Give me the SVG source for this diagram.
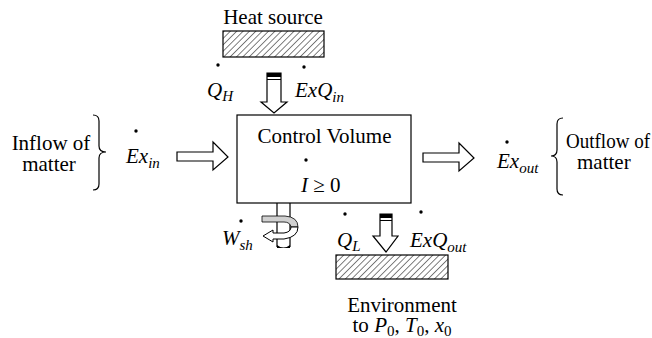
<svg xmlns="http://www.w3.org/2000/svg" width="652" height="338" viewBox="0 0 652 338" font-family="'Liberation Serif', 'DejaVu Serif', serif">
<defs>
<pattern id="hatch" width="4.5" height="4.5" patternUnits="userSpaceOnUse" patternTransform="rotate(45)">
<line x1="0" y1="0" x2="0" y2="4.5" stroke="#000" stroke-width="1"/>
</pattern>
<style>
text{font-family:'Liberation Serif','DejaVu Serif',serif;font-size:21px;fill:#000}
.i{font-style:italic}
.s{font-size:15px}
.ln{fill:none;stroke:#000;stroke-width:1.2}
.blk{fill:#fff;stroke:#000;stroke-width:1.2}
.hat{fill:url(#hatch);stroke:#000;stroke-width:1.2}
.dot{fill:#000}
</style>
</defs>
<rect width="652" height="338" fill="#fff"/>

<g id="heat-source">
<text x="273" y="24" text-anchor="middle">Heat source</text>
<rect class="hat" x="223" y="31" width="101" height="26"/>
</g>

<g id="control-volume">
<rect class="blk" x="237" y="115" width="174" height="88"/>
<text x="324.5" y="143" text-anchor="middle">Control Volume</text>
<circle class="dot" cx="306" cy="160" r="1.7"/>
<text x="301" y="192"><tspan class="i">I</tspan> ≥ 0</text>
</g>

<g id="environment">
<rect class="hat" x="336" y="255" width="112" height="24"/>
<text x="402" y="312" text-anchor="middle">Environment</text>
<text x="402" y="332" text-anchor="middle">to <tspan class="i">P</tspan><tspan class="s" dy="4">0</tspan><tspan dy="-4">, </tspan><tspan class="i">T</tspan><tspan class="s" dy="4">0</tspan><tspan dy="-4">, </tspan><tspan class="i">x</tspan><tspan class="s" dy="4">0</tspan></text>
</g>

<g id="inflow">
<text x="51" y="150" text-anchor="middle">Inflow of</text>
<text x="49" y="171" text-anchor="middle">matter</text>
<path class="ln" d="M93,115 Q99,115 99,121 L99,146 Q99,152 106,152 Q99,152 99,158 L99,184 Q99,190 93,190"/>
<circle class="dot" cx="136" cy="131" r="1.7"/>
<text x="126" y="163" class="i">Ex<tspan class="s" dy="5">in</tspan></text>
</g>

<g id="outflow">
<text x="566" y="148" textLength="84" lengthAdjust="spacingAndGlyphs">Outflow of</text>
<text x="577" y="169">matter</text>
<path class="ln" d="M563,118 Q557,118 557,124 L557,150 Q557,156 551,156 Q557,156 557,162 L557,189 Q557,195 563,195"/>
<circle class="dot" cx="507" cy="142" r="1.7"/>
<text x="497" y="168" class="i">Ex<tspan class="s" dy="5">out</tspan></text>
</g>

<g id="heat-in-labels">
<circle class="dot" cx="218" cy="65" r="1.7"/>
<text x="207" y="97" class="i">Q<tspan class="s" dy="4">H</tspan></text>
<circle class="dot" cx="304" cy="67" r="1.7"/>
<text x="295" y="97" class="i">ExQ<tspan class="s" dy="5">in</tspan></text>
</g>

<g id="heat-out-labels">
<circle class="dot" cx="345" cy="214" r="1.7"/>
<text x="337" y="247" class="i">Q<tspan class="s" dy="4">L</tspan></text>
<circle class="dot" cx="421" cy="212" r="1.7"/>
<text x="410" y="247" class="i">ExQ<tspan class="s" dy="5">out</tspan></text>
</g>

<g id="shaft-work">
<path class="ln" d="M277,203 L277,247 M290,203 L290,247"/>
<path d="M277,245 Q283.5,250 290,245 L290,248 L277,248 Z" fill="#000"/>
<path d="M262,216 L285,216 Q298,217 298,227 L291,227 Q290,222 284,222 L262,222 Z" fill="#d0d0d0" stroke="#000" stroke-width="0.8"/>
<path d="M298,227 Q298,237 284,239 L273,239 L273,242 L263,236 L273,230 L273,233 L284,233 Q291,232 291,227 Z" fill="#fff" stroke="#000" stroke-width="1"/>
<circle class="dot" cx="241" cy="221" r="1.7"/>
<text x="222" y="245" class="i">W<tspan class="s" dy="5">sh</tspan></text>
</g>

<g id="connectors">
<path class="blk" d="M267,73 L281,73 L281,102 L287,102 L274,113 L261,102 L267,102 Z"/>
<rect x="267" y="73" width="14" height="4" fill="#000"/>
<line x1="267" y1="79.5" x2="281" y2="79.5" stroke="#000" stroke-width="1"/>
<path class="blk" d="M380,214 L392,214 L392,236 L398,236 L386,252 L373,236 L380,236 Z"/>
<rect x="380" y="214" width="12" height="4" fill="#000"/>
<line x1="380" y1="220.5" x2="392" y2="220.5" stroke="#000" stroke-width="1"/>
<path class="blk" d="M177,152 L213,152 L213,142 L228,157 L213,170 L213,161 L177,161 Z"/>
<path class="blk" d="M423,153 L459,153 L459,143 L474,158 L459,171 L459,162 L423,162 Z"/>
</g>
</svg>
